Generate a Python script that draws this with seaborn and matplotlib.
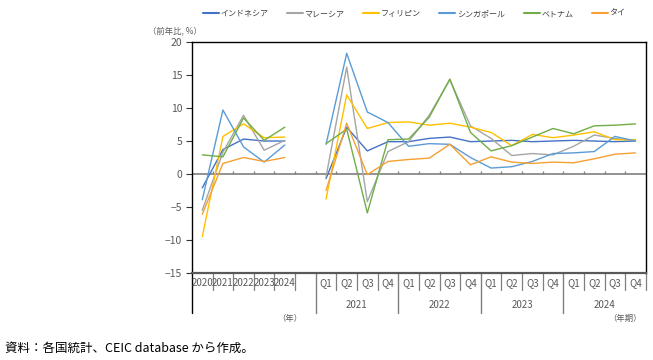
import numpy as np
import pandas as pd
import matplotlib
matplotlib.use("Agg")
import matplotlib.pyplot as plt
import seaborn as sns

# 系列名と色
countries = ["インドネシア", "マレーシア", "フィリピン", "シンガポール", "ベトナム", "タイ"]
colors = ["#4472C4", "#A5A5A5", "#FFC000", "#5B9BD5", "#70AD47", "#F5A032"]

# 年次（2020-2024）
years = ["2020", "2021", "2022", "2023", "2024"]
annual_idn = [-2.1, 3.7, 5.3, 5.0, 5.0]
annual_mys = [-5.5, 3.3, 8.9, 3.6, 5.1]
annual_phl = [-9.5, 5.7, 7.6, 5.5, 5.6]
annual_sgp = [-3.9, 9.7, 4.1, 1.8, 4.4]
annual_vnm = [2.9, 2.6, 8.5, 5.1, 7.1]
annual_tha = [-6.1, 1.6, 2.5, 1.9, 2.5]

# 四半期（2021Q1-2024Q4）
q_years = ["2021", "2022", "2023", "2024"]
quarters = ["Q1", "Q2", "Q3", "Q4"]
q_idn = [-0.7, 7.1, 3.5, 4.9, 4.9, 5.4, 5.6, 4.9, 5.0, 5.1, 4.9, 5.0, 5.1, 5.0, 4.9, 5.0]
q_mys = [-0.4, 16.2, -4.2, 3.4, 4.9, 8.9, 14.3, 7.3, 5.4, 2.8, 3.1, 2.9, 4.2, 5.9, 5.4, 5.0]
q_phl = [-3.8, 12.0, 6.9, 7.8, 7.9, 7.4, 7.7, 7.1, 6.3, 4.3, 6.0, 5.5, 5.9, 6.4, 5.2, 5.2]
q_sgp = [4.5, 18.3, 9.4, 7.8, 4.2, 4.6, 4.5, 2.5, 0.9, 1.1, 1.9, 3.1, 3.2, 3.4, 5.7, 5.0]
q_vnm = [4.6, 6.8, -5.9, 5.2, 5.3, 8.6, 14.4, 6.3, 3.5, 4.3, 5.6, 6.9, 6.1, 7.3, 7.4, 7.6]
q_tha = [-2.5, 7.7, -0.1, 1.9, 2.2, 2.4, 4.5, 1.4, 2.6, 1.8, 1.6, 1.8, 1.7, 2.3, 3.0, 3.2]

annual_vals = [annual_idn, annual_mys, annual_phl, annual_sgp, annual_vnm, annual_tha]
q_vals = [q_idn, q_mys, q_phl, q_sgp, q_vnm, q_tha]

# 横軸の並び: 年次5つ + 空き1つ + 四半期16
n_annual = len(years)
q_start = n_annual + 1
n_q = len(q_years) * len(quarters)
n_slots = q_start + n_q

rows = []
for c, av, qv in zip(countries, annual_vals, q_vals):
    for i, v in enumerate(av):
        rows.append({"country": c, "pos": i + 0.5, "value": v, "seg": "annual"})
    for i, v in enumerate(qv):
        rows.append({"country": c, "pos": q_start + i + 0.5, "value": v, "seg": "quarter"})
df = pd.DataFrame(rows)

sns.set_style("white")
plt.rcParams["font.family"] = ["Noto Sans CJK JP", "DejaVu Sans"]

fig = plt.figure(figsize=(6.53, 3.6), dpi=100)
ax = fig.add_axes([0.294, 0.242, 0.695, 0.641])

sns.lineplot(data=df, x="pos", y="value", hue="country", units="seg",
             estimator=None, palette=dict(zip(countries, colors)),
             hue_order=countries, linewidth=1.0, ax=ax, legend=False)

ax.set_xlim(0, n_slots)
ax.set_ylim(-15, 20)
ax.set_yticks(np.arange(-15, 21, 5))
ax.set_xticks([])
ax.set_xlabel("")
ax.set_ylabel("")
ax.tick_params(axis="y", direction="out", length=4, width=0.8, colors="#333333",
               labelsize=7.5, labelcolor="#595959", left=True, pad=3)

for side in ["top", "right", "left"]:
    ax.spines[side].set_color("#000000")
    ax.spines[side].set_linewidth(1.0)
ax.spines["bottom"].set_color("#595959")
ax.spines["bottom"].set_linewidth(1.6)

# ゼロ線と区切り目盛り
ax.axhline(0, color="#7f7f7f", linewidth=1.2, zorder=1)
bounds = np.arange(1, n_slots)
ax.vlines(bounds, 0, 0.45, color="#7f7f7f", linewidth=0.9, zorder=1)

# 下部ラベル
trans = ax.get_xaxis_transform()
lab_kw = dict(transform=trans, ha="center", va="center", fontsize=7, color="#595959",
              clip_on=False)
for i, y in enumerate(years):
    ax.text(i + 0.5, -0.045, y, **lab_kw)
k = 0
for y in q_years:
    for q in quarters:
        ax.text(q_start + k + 0.5, -0.045, q, **lab_kw)
        k += 1
    ax.text(q_start + k - 2, -0.14, y, **lab_kw)

short_lines = [b for b in range(1, n_slots + 1)]
long_lines = [0, q_start] + [q_start + 4 * j for j in range(1, len(q_years))]
for b in short_lines:
    if b in long_lines:
        continue
    ax.plot([b, b], [0, -0.074], transform=trans, color="#7f7f7f",
            linewidth=0.9, clip_on=False)
for b in long_lines:
    ax.plot([b, b], [0, -0.173], transform=trans,
            color="#000000" if b == 0 else "#7f7f7f", linewidth=1.0, clip_on=False)

ax.text(4.75, -0.197, "（年）", transform=trans, ha="center", va="center",
        fontsize=6, color="#595959", clip_on=False)
ax.text(21.0, -0.197, "（年期）", transform=trans, ha="center", va="center",
        fontsize=6, color="#595959", clip_on=False)
ax.text(-0.037, 1.048, "（前年比, %）", transform=ax.transAxes, ha="center",
        va="center", fontsize=6, color="#595959")

# 凡例
handles = [plt.Line2D([], [], color=c, linewidth=1.5) for c in colors]
fig.legend(handles, countries, loc="center", bbox_to_anchor=(0.634, 0.962), ncol=6,
           frameon=False, fontsize=5.8, handlelength=2.0, handletextpad=0.2,
           columnspacing=2.3, labelcolor="#404040")

fig.text(0.008, 0.033, "資料：各国統計、CEIC database から作成。", fontsize=9,
         ha="left", va="center", color="#000000")

fig.savefig("out.png", dpi=100)
